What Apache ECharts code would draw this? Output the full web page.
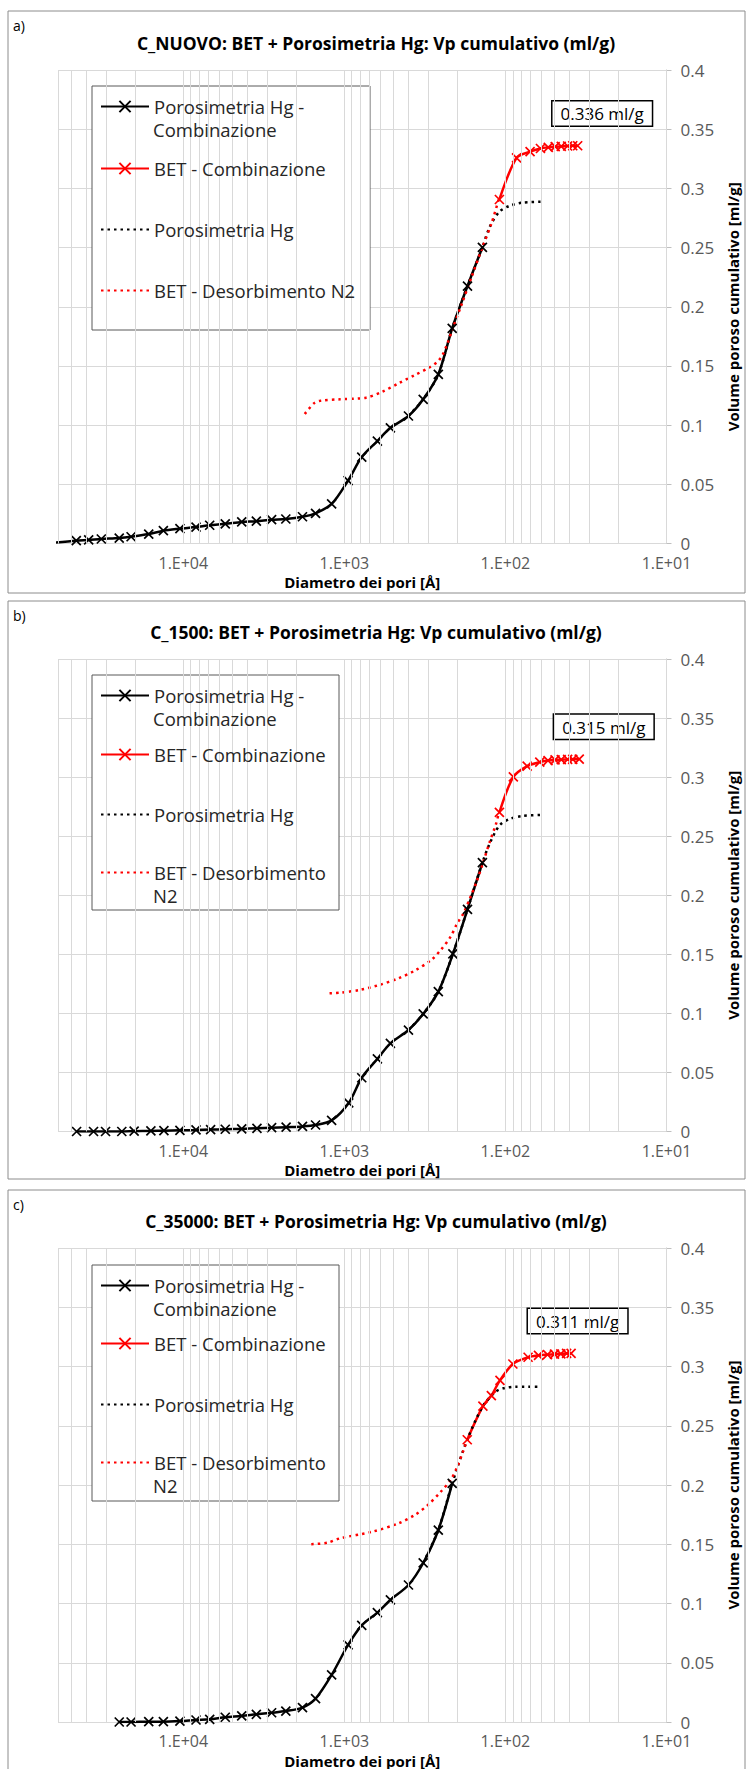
<!DOCTYPE html>
<html><head><meta charset="utf-8">
<script src="https://cdn.jsdelivr.net/npm/echarts@6/dist/echarts.min.js"></script>
<style>html,body{margin:0;padding:0;background:#fff}#c{width:748px;height:1769px}</style>
</head><body><div id="c"></div>
<script>
// ---------------- text ----------------
const titles = [
  'C_NUOVO: BET + Porosimetria Hg: Vp cumulativo (ml/g)',
  'C_1500: BET + Porosimetria Hg: Vp cumulativo (ml/g)',
  'C_35000: BET + Porosimetria Hg: Vp cumulativo (ml/g)'
];
const tags = ['a)', 'b)', 'c)'];
const seriesNames = ['Porosimetria Hg - Combinazione', 'BET - Combinazione', 'Porosimetria Hg', 'BET - Desorbimento N2'];
const xAxisName = 'Diametro dei pori [Å]';
const yAxisName = 'Volume poroso cumulativo [ml/g]';
const xMin = 10, xMax = 60000;
const yMin = 0, yMax = 0.4, yStep = 0.05;
const gridDecades = [10, 100, 1000, 10000];
const gridMultipliers = [1, 2, 3, 4, 5, 6, 7, 8, 9];

// ---------------- panel a) C_NUOVO ----------------
const a_hgComb_D = [70000, 46200, 38700, 32300, 25000, 21100, 16400, 13300, 10500, 8340, 6860, 5490, 4340, 3520, 2830, 2310, 1820, 1510, 1200, 948, 780, 624, 518, 400, 324, 261, 214, 172, 139];
const a_hgComb_V = [0, 0.0024, 0.003, 0.0038, 0.0046, 0.0057, 0.008, 0.0108, 0.0125, 0.0139, 0.0154, 0.0166, 0.0182, 0.0189, 0.0201, 0.0207, 0.0226, 0.0255, 0.0334, 0.0532, 0.073, 0.0865, 0.0977, 0.1077, 0.1218, 0.1429, 0.1818, 0.2175, 0.2502];
const a_betComb_D = [109, 85.3, 70.3, 60.6, 54.2, 49.1, 45, 41.1, 38.2, 35.6];
const a_betComb_V = [0.2906, 0.3258, 0.331, 0.3337, 0.3347, 0.3352, 0.3355, 0.3358, 0.336, 0.336];
const a_hg_D = [400, 324, 261, 214, 172, 139, 125, 109, 94.7, 78.6, 60];
const a_hg_V = [0.1077, 0.1218, 0.1429, 0.1818, 0.2175, 0.2502, 0.2676, 0.2803, 0.2851, 0.2879, 0.2887];
const a_betDes_D = [1761, 1546, 1408, 1065, 734, 582, 461, 365, 303, 264, 246, 229, 214, 186, 162, 141, 122, 110];
const a_betDes_V = [0.1094, 0.1184, 0.1206, 0.1218, 0.1232, 0.1282, 0.1353, 0.1423, 0.148, 0.1536, 0.1592, 0.1691, 0.1804, 0.2029, 0.2254, 0.2479, 0.2705, 0.2908];

// ---------------- panel b) C_1500 ----------------
const b_hgComb_D = [46000, 36100, 30400, 24100, 20200, 15900, 13200, 10500, 8340, 6770, 5490, 4340, 3490, 2830, 2300, 1820, 1510, 1200, 940, 780, 624, 518, 400, 324, 261, 212, 172, 139];
const b_hgComb_V = [0, 0, 0, 0, 0.0003, 0.0005, 0.0007, 0.001, 0.0013, 0.0016, 0.0019, 0.0022, 0.0027, 0.0032, 0.0037, 0.0043, 0.0055, 0.0094, 0.0242, 0.0455, 0.0614, 0.0746, 0.0859, 0.0995, 0.1184, 0.1503, 0.1881, 0.2276];
const b_betComb_D = [109, 89.3, 73.3, 61.2, 54.4, 49.2, 45, 41.1, 38.2, 34.8];
const b_betComb_V = [0.2701, 0.3002, 0.3093, 0.3127, 0.314, 0.3146, 0.3148, 0.315, 0.3151, 0.3152];
const b_hg_D = [400, 324, 261, 212, 172, 139, 125, 109, 94.7, 78.6, 60];
const b_hg_V = [0.0859, 0.0995, 0.1184, 0.1503, 0.1881, 0.2276, 0.244, 0.259, 0.2644, 0.2671, 0.268];
const b_betDes_D = [1236, 1065, 805, 609, 461, 365, 289, 252, 219, 199, 182, 166, 151, 138, 125, 114, 110];
const b_betDes_V = [0.117, 0.1175, 0.1198, 0.124, 0.1297, 0.1362, 0.1452, 0.1537, 0.1649, 0.1763, 0.1848, 0.1975, 0.2115, 0.2271, 0.2454, 0.261, 0.2699];

// ---------------- panel c) C_35000 ----------------
const c_hgComb_D = [25000, 21100, 16400, 13300, 10500, 8340, 6860, 5490, 4340, 3520, 2830, 2310, 1820, 1510, 1200, 948, 780, 624, 518, 400, 324, 261, 214];
const c_hgComb_V = [0, 0, 0.0003, 0.0003, 0.0008, 0.0017, 0.0023, 0.004, 0.0051, 0.0065, 0.0078, 0.0092, 0.0122, 0.0197, 0.0397, 0.065, 0.0815, 0.0923, 0.103, 0.1156, 0.1342, 0.162, 0.2014];
const c_betComb_D = [172.6, 138, 122.3, 108.1, 89.9, 72.3, 62.3, 54.8, 49.6, 45.3, 41.7, 39.1];
const c_betComb_V = [0.2382, 0.2665, 0.2755, 0.2883, 0.3021, 0.3078, 0.3094, 0.31, 0.3104, 0.3107, 0.311, 0.3111];
const c_hg_D = [324, 261, 214, 172.6, 138, 115, 103, 86, 60];
const c_hg_V = [0.1342, 0.162, 0.2014, 0.2382, 0.2665, 0.2787, 0.2816, 0.283, 0.283];
const c_betDes_D = [1605, 1271, 1065, 669, 461, 365, 303, 252, 219, 199, 182, 172];
const c_betDes_V = [0.15, 0.1513, 0.155, 0.1606, 0.1677, 0.1747, 0.1831, 0.1943, 0.2042, 0.2154, 0.2295, 0.2386];

const panelData = [
  [[a_hgComb_D, a_hgComb_V], [a_betComb_D, a_betComb_V], [a_hg_D, a_hg_V], [a_betDes_D, a_betDes_V]],
  [[b_hgComb_D, b_hgComb_V], [b_betComb_D, b_betComb_V], [b_hg_D, b_hg_V], [b_betDes_D, b_betDes_V]],
  [[c_hgComb_D, c_hgComb_V], [c_betComb_D, c_betComb_V], [c_hg_D, c_hg_V], [c_betDes_D, c_betDes_V]]
];

// ---------------- layout (pixels) ----------------
const FONT = '"Open Sans", "Noto Sans", sans-serif';
const GRID_LEFT = 58, GRID_W = 623;
const LEG_FS = 18.5;
const layout = [
  {frame: [8, 11, 737, 582], gridTop: 70, gridH: 473.5, legTop: 86, legH: 244, legW: 278, rows: [18, 80, 141, 202], wrap4: false, labelOff: [24.5, -15]},
  {frame: [8, 601, 737, 578], gridTop: 659, gridH: 472.5, legTop: 675, legH: 235, legW: 247, rows: [18, 77, 137, 195], wrap4: true, labelOff: [24.5, -15]},
  {frame: [8, 1190, 737, 620], gridTop: 1248, gridH: 474, legTop: 1265, legH: 236, legW: 247, rows: [18, 76, 137, 195], wrap4: true, labelOff: [6.5, -15]}
];
const CROSS = 'path://M0,0L10,10M10,0L0,10';

const gridValues = [];
gridDecades.forEach(d => gridMultipliers.forEach(m => { const v = m * d; if (v <= xMax) gridValues.push(v); }));

function pairs(D, V) { return D.map((d, i) => [d, V[i]]); }
function expLabel(v) {
  const e = Math.log10(v);
  if (Math.abs(e - Math.round(e)) > 1e-6) return '';
  const n = Math.round(e);
  return '1.E+' + (n < 10 ? '0' : '') + n;
}

const grid = [], xAxis = [], yAxis = [], series = [], legend = [], graphic = [];

layout.forEach((L, i) => {
  grid.push({left: GRID_LEFT, top: L.gridTop, width: GRID_W, height: L.gridH});
  xAxis.push({
    type: 'log', gridIndex: i, logBase: 10, min: xMin, max: xMax, inverse: true,
    axisLine: {show: false}, axisTick: {show: false}, splitLine: {show: false},
    axisLabel: {formatter: expLabel, margin: 11, color: '#595959', fontSize: 16, lineHeight: 16, fontFamily: FONT},
    name: xAxisName, nameLocation: 'middle', nameGap: 31,
    nameTextStyle: {fontWeight: 'bold', fontSize: 15, color: '#000', fontFamily: FONT}
  });
  yAxis.push({
    type: 'value', gridIndex: i, position: 'right', min: yMin, max: yMax, interval: yStep,
    axisLine: {show: true, lineStyle: {color: '#bfbfbf', width: 1}},
    axisTick: {show: true, length: 5, lineStyle: {color: '#bfbfbf'}},
    splitLine: {show: true, lineStyle: {color: '#d9d9d9', width: 1}},
    axisLabel: {margin: 14, color: '#595959', fontSize: 17, lineHeight: 16, fontFamily: FONT},
    name: yAxisName, nameLocation: 'middle', nameRotate: 90, nameGap: 56,
    nameTextStyle: {fontWeight: 'bold', fontSize: 15, color: '#000', fontFamily: FONT}
  });

  // vertical (major + minor) gridlines through the log scale
  series.push({
    type: 'line', xAxisIndex: i, yAxisIndex: i, data: [], silent: true, z: 1,
    markLine: {
      silent: true, symbol: ['none', 'none'], label: {show: false}, animation: false,
      lineStyle: {color: '#d9d9d9', width: 1, type: 'solid'},
      emphasis: {disabled: true},
      data: gridValues.map(v => ({xAxis: v}))
    }
  });

  const P = panelData[i];
  series.push({
    name: seriesNames[0], type: 'line', xAxisIndex: i, yAxisIndex: i, z: 2,
    data: pairs(P[0][0], P[0][1]), smooth: 0.3, clip: true,
    symbol: CROSS, symbolSize: 9, showAllSymbol: true,
    lineStyle: {color: '#000', width: 2.5},
    itemStyle: {color: '#000', borderColor: '#000', borderWidth: 1.7}
  });
  const betData = pairs(P[1][0], P[1][1]).map((p, k, arr) => k === arr.length - 1 ? {
    value: p,
    label: {
      show: true, position: 'top', distance: 0, offset: L.labelOff,
      formatter: o => o.value[1].toFixed(3) + ' ml/g',
      color: '#000', fontSize: 17, fontFamily: FONT, backgroundColor: '#fff',
      borderColor: '#000', borderWidth: 1.5, padding: [4, 8, 3, 8]
    }
  } : p);
  series.push({
    name: seriesNames[1], type: 'line', xAxisIndex: i, yAxisIndex: i, z: 2,
    data: betData, smooth: 0.3, clip: true,
    symbol: CROSS, symbolSize: 9, showAllSymbol: true,
    lineStyle: {color: '#ff0000', width: 2.5},
    itemStyle: {color: '#ff0000', borderColor: '#ff0000', borderWidth: 1.7}
  });
  series.push({
    name: seriesNames[2], type: 'line', xAxisIndex: i, yAxisIndex: i, z: 2,
    data: pairs(P[2][0], P[2][1]), smooth: 0.3, symbol: 'none',
    lineStyle: {color: '#000', width: 2.5, type: [2.5, 4]},
    itemStyle: {color: 'rgba(0,0,0,0)', borderWidth: 0}
  });
  series.push({
    name: seriesNames[3], type: 'line', xAxisIndex: i, yAxisIndex: i, z: 2,
    data: pairs(P[3][0], P[3][1]), smooth: 0.3, symbol: 'none',
    lineStyle: {color: '#ff0000', width: 2.5, type: [2.5, 4]},
    itemStyle: {color: 'rgba(0,0,0,0)', borderWidth: 0}
  });

  // panel frame, tag, title
  graphic.push({type: 'rect', z: 0, silent: true,
    shape: {x: L.frame[0], y: L.frame[1], width: L.frame[2], height: L.frame[3]},
    style: {fill: 'none', stroke: '#8c8c8c', lineWidth: 1}});
  graphic.push({type: 'text', z: 5, silent: true,
    style: {text: tags[i], x: 13, y: L.frame[1] + 14, align: 'left', verticalAlign: 'middle',
      fontSize: 14, fontFamily: FONT, fill: '#000'}});
  graphic.push({type: 'text', z: 5, silent: true,
    style: {text: titles[i], x: 376, y: L.gridTop - 27, align: 'center', verticalAlign: 'middle',
      fontSize: 17.5, fontWeight: 'bold', fontFamily: FONT, fill: '#000'}});

  // legend box
  graphic.push({type: 'rect', z: 3, silent: true,
    shape: {x: 92, y: L.legTop, width: L.legW, height: L.legH},
    style: {fill: '#fff', stroke: '#595959', lineWidth: 1}});
  const firstLines = ['Porosimetria Hg -', 'BET - Combinazione', 'Porosimetria Hg', L.wrap4 ? 'BET - Desorbimento' : 'BET - Desorbimento N2'];
  const secondLines = ['Combinazione', null, null, L.wrap4 ? 'N2' : null];
  seriesNames.forEach((nm, k) => {
    legend.push({
      data: [nm], left: 100, top: L.legTop + L.rows[k] - 7, orient: 'vertical',
      padding: 0, itemGap: 0, itemWidth: 48, itemHeight: 14, selectedMode: false, z: 6,
      formatter: () => firstLines[k],
      textStyle: {fontSize: LEG_FS, lineHeight: 18, color: '#262626', fontFamily: FONT}
    });
    if (secondLines[k]) {
      graphic.push({type: 'text', z: 6, silent: true,
        style: {text: secondLines[k], x: 153, y: L.legTop + L.rows[k] + 25, align: 'left', verticalAlign: 'middle',
          fontSize: LEG_FS, fontFamily: FONT, fill: '#262626'}});
    }
  });
});

const chart = echarts.init(document.getElementById('c'), null, {renderer: 'svg', width: 748, height: 1769});
chart.setOption({
  animation: false,
  backgroundColor: '#fff',
  grid, xAxis, yAxis, series, legend, graphic
});
</script>
</body></html>
